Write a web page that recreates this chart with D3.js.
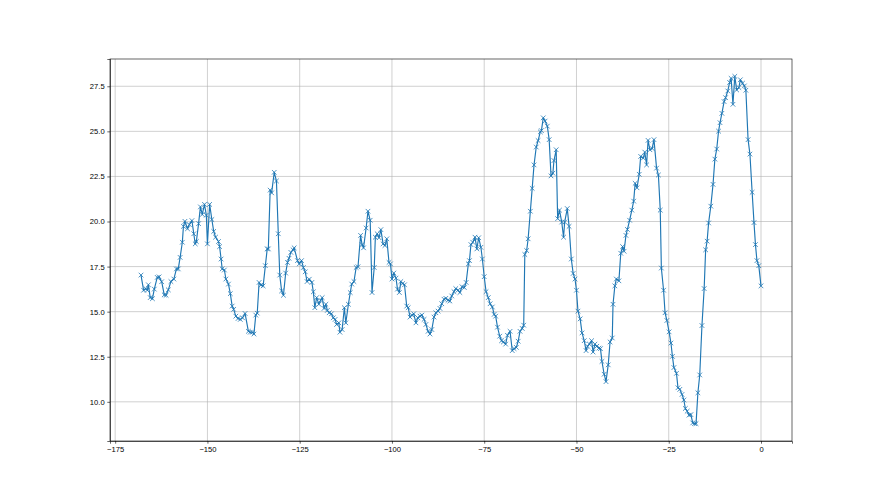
<!DOCTYPE html>
<html lang="en">
<head>
<meta charset="UTF-8">
<title>Series</title>
<script src="https://d3js.org/d3.v7.min.js"></script>
<style>
    body { margin: 0; background: #fff; }
    svg { font-family: "DejaVu Sans", sans-serif; }
    .grid line { stroke: #b0b0b0; stroke-width: 0.6; }
    .axis path, .axis line { stroke: #000; stroke-width: 0.6; }
    .axis text { font-size: 7.6px; fill: #000; }
</style>
</head>
<body>
<svg id="svg1" width="880" height="495"></svg>
<script>
// sample positions (x) and readings (y)
var xValues = [
    -168.0, -167.3, -166.7, -166.3, -166.0, -165.5, -164.9, -164.4, -163.6, -163.1, -162.4, -161.7, -161.2, -160.6, -159.9, -159.1,
    -158.4, -157.9, -157.4, -156.8, -156.5, -156.1, -155.4, -154.9, -154.2, -153.7, -153.3, -153.0, -152.4, -151.9, -151.4, -150.8,
    -150.3, -150.0, -149.4, -148.8, -148.3, -147.8, -147.0, -146.7, -146.3, -146.0, -145.4, -145.0, -144.3, -143.8, -143.3, -142.9,
    -142.3, -141.7, -141.1, -140.5, -139.8, -138.9, -138.4, -137.8, -137.4, -136.9, -136.5, -136.0, -135.5, -134.9, -134.3, -133.8,
    -133.5, -133.0, -132.6, -131.9, -131.3, -130.8, -130.4, -129.9, -129.4, -128.8, -128.3, -127.9, -127.4, -126.8, -126.5,
    -125.6, -125.1, -124.5, -124.0, -123.5, -123.0, -122.4, -121.7, -121.3, -120.9, -120.4, -119.8, -119.3, -118.9, -118.4, -117.9,
    -117.5, -117.0, -116.4, -115.9, -115.4, -115.0, -114.4, -114.1, -113.5, -112.9, -112.5, -111.8, -111.3, -110.9, -110.3, -109.7,
    -109.2, -108.5, -108.1, -107.7, -107.0, -106.5, -105.9, -105.4, -104.8, -104.5, -104.0, -103.5, -103.0, -102.4, -101.9, -101.4,
    -100.8, -100.4, -100.0, -99.5, -98.9, -98.5, -98.0, -97.6, -97.1, -96.6, -96.0, -95.6, -95.1, -94.6, -94.1, -93.5,
    -93.0, -92.4, -91.9, -91.3, -90.8, -90.2, -89.7, -89.2, -88.6, -88.1, -87.5, -87.0, -86.5, -85.9, -85.4, -84.8,
    -84.3, -83.8, -83.2, -82.7, -82.1, -81.6,
    -81.0, -80.4, -79.9, -79.3, -79.0, -78.6, -78.1, -77.5, -77.0, -76.5, -75.9, -75.5, -75.0, -74.5, -73.9, -73.4,
    -72.8, -72.3, -71.9, -71.4, -70.8, -70.3, -69.8, -69.2, -68.7, -68.0, -67.4, -66.9, -66.3, -65.8, -65.3, -64.7,
    -64.3, -64.0, -63.5, -63.1, -62.5, -62.0, -61.5, -60.9, -60.4, -59.8, -59.5, -59.0, -58.5, -57.9, -57.4, -56.9,
    -56.4, -56.1, -55.5, -55.1, -54.6, -54.0, -53.5, -53.2, -52.5, -52.0, -51.4, -50.9, -50.4, -50.0, -49.6, -49.0,
    -48.5, -47.9, -47.4, -47.0, -46.5, -45.9, -45.5, -45.0, -44.5, -43.9, -43.5, -43.1, -42.5, -42.0, -41.4, -40.9, -40.3,
    -40.1, -39.6, -39.2, -38.5, -38.0, -37.5, -37.1, -36.6, -36.2, -35.6, -35.0, -34.5, -34.1, -33.6, -33.0, -32.6,
    -31.9, -31.5, -31.0, -30.6, -30.1, -29.5, -29.0, -28.3, -27.8, -27.3, -27.0, -26.4, -26.0, -25.5, -24.9, -24.4,
    -24.0, -23.6, -22.9, -22.5, -22.0, -21.4, -20.9, -20.5, -20.0, -19.5, -19.0, -18.5, -18.0, -17.6, -17.1, -16.6,
    -16.0, -15.4, -15.0, -14.6, -14.2, -13.6, -13.0, -12.5, -12.0, -11.5, -11.1, -10.6, -10.0, -9.6, -9.0, -8.5,
    -8.1, -7.6, -7.1, -6.6, -6.0, -5.6, -5.0, -4.5, -4.1, -3.5, -3.0, -2.4, -1.9, -1.5, -1.1, -0.6, 0.0
];
var yValues = [
    17.03, 16.19, 16.28, 16.19, 16.49, 15.78, 15.72, 16.25, 16.90, 16.93, 16.66, 15.93, 15.91, 16.21, 16.67, 16.81,
    17.37, 17.37, 18.01, 18.85, 19.73, 20.01, 19.60, 19.83, 20.05, 19.32, 18.76, 18.89, 19.88, 20.81, 20.39, 20.95,
    20.35, 18.76, 20.95, 20.11, 19.45, 19.13, 18.89, 18.61, 17.92, 17.37, 17.31, 16.81, 16.53, 16.00, 15.31, 15.13,
    14.75, 14.62, 14.57, 14.66, 14.90, 13.91, 13.86, 13.86, 13.76, 14.81, 14.92, 16.62, 16.47, 16.43, 17.55, 18.48,
    18.48, 21.74, 21.59, 22.73, 22.25, 19.32, 17.03, 16.15, 15.91, 17.14, 17.73, 17.96, 18.29, 18.43, 18.54,
    17.83, 17.65, 17.83, 17.45, 17.21, 16.67, 16.80, 16.62, 16.10, 15.22, 15.78, 15.41, 15.63, 15.78, 15.18, 15.41,
    15.07, 14.94, 14.88, 14.66, 14.57, 14.29, 14.38, 13.86, 14.01, 15.22, 14.38, 15.41, 16.06, 16.53, 16.67, 17.45,
    17.49, 19.23, 18.72, 18.54, 19.64, 20.57, 20.07, 16.06, 17.45, 19.13, 19.32, 19.10, 19.55, 18.76, 18.67, 19.04,
    17.73, 17.65, 16.81, 17.14, 16.86, 16.25, 16.06, 16.67, 16.56, 16.49, 15.31, 15.22, 14.70, 14.81, 14.88, 14.38,
    14.66, 14.75, 14.81, 14.57, 14.29, 13.91, 13.76, 14.01, 14.70, 14.94, 15.03, 15.18, 15.44, 15.69, 15.74, 15.63,
    15.59, 15.87, 16.11, 16.28, 16.19, 16.06,
    16.38, 16.34, 16.62, 17.65, 17.83, 18.72, 18.85, 19.13, 18.48, 19.10, 18.57, 17.92, 16.94, 16.11, 15.78, 15.44,
    15.26, 14.85, 14.75, 14.14, 13.64, 13.39, 13.32, 13.20, 13.69, 13.91, 12.84, 12.95, 13.02, 13.36, 13.91, 14.07,
    14.25, 18.17, 18.39, 19.04, 20.57, 21.84, 23.14, 24.13, 24.49, 24.97, 25.04, 25.75, 25.57, 25.29, 24.54, 22.53,
    22.68, 23.38, 23.98, 20.16, 20.63, 19.97, 19.13, 19.97, 20.72, 19.73, 17.92, 17.12, 16.81, 16.19, 15.03, 14.60,
    13.82, 13.39, 12.84, 13.08, 13.20, 13.39, 12.76, 13.20, 13.08, 12.98, 12.95, 12.24, 11.53, 11.12, 12.05, 13.32, 13.54,
    15.41, 16.43, 16.81, 16.71, 18.24, 18.61, 18.35, 19.23, 19.56, 20.07, 20.63, 21.13, 22.12, 21.87, 22.62, 23.61,
    23.52, 23.85, 23.14, 24.50, 23.98, 24.05, 24.54, 22.96, 22.58, 20.63, 17.42, 16.19, 14.94, 14.51, 13.88, 13.26,
    12.52, 11.90, 11.58, 10.78, 10.69, 10.41, 10.10, 9.63, 9.48, 9.26, 9.29, 8.83, 8.79, 8.79, 10.50, 11.49,
    14.23, 16.28, 18.43, 18.91, 19.92, 20.85, 22.06, 23.46, 24.02, 25.01, 25.48, 26.00, 26.65, 26.87, 27.24, 27.71,
    27.94, 26.50, 28.05, 27.30, 27.43, 27.86, 27.67, 27.52, 27.28, 24.54, 23.74, 21.62, 19.94, 18.72, 17.83, 17.55, 16.43
];
var xTicks = [-175, -150, -125, -100, -75, -50, -25, 0];
var yTicks = [10.0, 12.5, 15.0, 17.5, 20.0, 22.5, 25.0, 27.5];

var svg1 = d3.select("#svg1"),
    plotLeft = 110, plotRight = 792, plotTop = 59, plotBottom = 441;

var data = d3.zip(xValues, yValues);

// matplotlib style 5% margins
var xExt = d3.extent(xValues), yExt = d3.extent(yValues);
var xPad = (xExt[1] - xExt[0]) * 0.05, yPad = (yExt[1] - yExt[0]) * 0.05;

var xScale = d3.scaleLinear().domain([xExt[0] - xPad, xExt[1] + xPad]).range([plotLeft, plotRight]);
var yScale = d3.scaleLinear().domain([yExt[0] - yPad, yExt[1] + yPad]).range([plotBottom, plotTop]);

// grid
var grid = svg1.append("g").attr("class", "grid");
grid.selectAll(".vg").data(xTicks).enter().append("line")
    .attr("x1", function (d) { return xScale(d); })
    .attr("x2", function (d) { return xScale(d); })
    .attr("y1", plotTop).attr("y2", plotBottom);
grid.selectAll(".hg").data(yTicks).enter().append("line")
    .attr("x1", plotLeft).attr("x2", plotRight)
    .attr("y1", function (d) { return yScale(d); })
    .attr("y2", function (d) { return yScale(d); });

// line
var line = d3.line()
    .x(function (d) { return xScale(d[0]); })
    .y(function (d) { return yScale(d[1]); });

svg1.append("path")
    .datum(data)
    .attr("fill", "none")
    .attr("stroke", "#1f77b4")
    .attr("stroke-width", 1.15)
    .attr("stroke-linejoin", "round")
    .attr("d", line);

// x markers
var m = 2.3;
svg1.append("g").selectAll("path")
    .data(data)
    .enter().append("path")
    .attr("transform", function (d) { return "translate(" + xScale(d[0]) + "," + yScale(d[1]) + ")"; })
    .attr("d", "M" + (-m) + "," + (-m) + "L" + m + "," + m + "M" + (-m) + "," + m + "L" + m + "," + (-m))
    .attr("stroke", "#1f77b4")
    .attr("stroke-width", 0.8)
    .attr("fill", "none");

// axes
var minus = function (d) { return (d < 0 ? "\u2212" : "") + Math.abs(d); };

svg1.append("g")
    .attr("class", "axis")
    .attr("transform", "translate(0," + plotBottom + ")")
    .call(d3.axisBottom(xScale).tickValues(xTicks).tickFormat(minus).tickSizeOuter(0).tickSize(2.7).tickPadding(2.7));

svg1.append("g")
    .attr("class", "axis")
    .attr("transform", "translate(" + plotLeft + ",0)")
    .call(d3.axisLeft(yScale).tickValues(yTicks).tickFormat(d3.format(".1f")).tickSizeOuter(0).tickSize(2.7).tickPadding(2.7));

// frame
svg1.append("rect")
    .attr("x", plotLeft).attr("y", plotTop)
    .attr("width", plotRight - plotLeft).attr("height", plotBottom - plotTop)
    .attr("fill", "none")
    .attr("stroke", "#000")
    .attr("stroke-width", 0.6);
</script>
</body>
</html>
